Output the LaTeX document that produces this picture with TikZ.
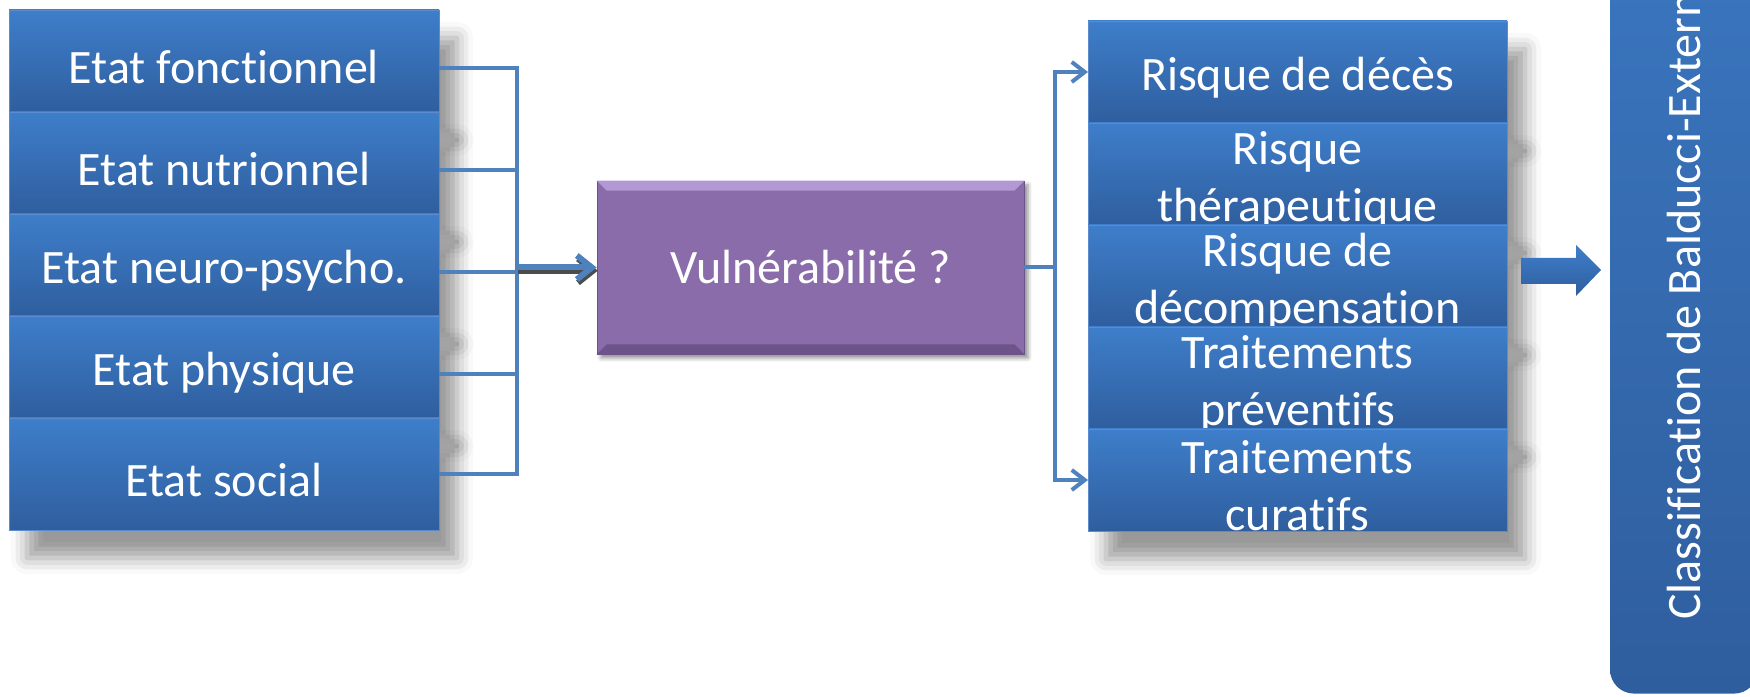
\documentclass[tikz,border=0pt]{standalone}
\usepackage{fontspec}
\setmainfont{Carlito}[Ligatures=NoCommon]
\usetikzlibrary{positioning,arrows.meta,shadows.blur}

\definecolor{boxtop}{RGB}{62,126,202}
\definecolor{boxbot}{RGB}{47,94,158}
\definecolor{boxline}{RGB}{92,140,205}
\definecolor{linkblue}{RGB}{79,129,189}
\definecolor{vulfill}{RGB}{138,108,170}
\definecolor{vullight}{RGB}{178,152,212}
\definecolor{vuldark}{RGB}{108,83,138}

\tikzset{
  statebox/.style={rectangle, top color=boxtop, bottom color=boxbot, draw=boxline,
    line width=0.4pt, minimum width=215pt, minimum height=51pt, inner sep=0pt,
    outer sep=0pt, blur shadow={shadow xshift=9pt, shadow yshift=-14pt,
    shadow blur radius=8pt, shadow opacity=40}},
  boxtext/.style={text=white, align=center, inner sep=0pt, yshift=-3pt,
    font=\fontsize{24}{28.5}\selectfont},
  vulbox/.style={rectangle, fill=vulfill, draw=vuldark, line width=0.4pt,
    minimum width=213.5pt, minimum height=86.5pt, text=white,
    font=\fontsize{24}{28.5}\selectfont,
    blur shadow={shadow xshift=2pt, shadow yshift=-2pt, shadow blur radius=2pt, shadow opacity=45}},
  link/.style={draw=linkblue, line width=2pt},
  tip/.style={-{Straight Barb[length=6.5pt,width=10pt]}},
  flow/.style={draw=linkblue, line width=3pt, -{Straight Barb[length=7.5pt,width=12pt]}},
  flowshade/.style={draw=black!70, line width=3pt, -{Straight Barb[length=7.5pt,width=12pt]}},
  ctgbox/.style={rectangle, rotate=90, anchor=west, top color=boxtop, bottom color=boxbot,
    rounded corners=12pt, minimum height=74pt, text width=440pt, align=flush left,
    inner xsep=37pt, text=white, font=\fontsize{24}{28.5}\selectfont}
}

\begin{document}
\begin{tikzpicture}[x=0.5pt,y=0.5pt]
\useasboundingbox (0,0) rectangle (1750,696);
\clip (0,0) rectangle (1750,696);

% state of the patient
\node[statebox, label={[boxtext]center:Etat fonctionnel}] (e1) at (224,635) {};
\node[statebox, below=0pt of e1, label={[boxtext]center:Etat nutrionnel}] (e2) {};
\node[statebox, below=0pt of e2, label={[boxtext]center:Etat neuro-psycho.}] (e3) {};
\node[statebox, below=0pt of e3, label={[boxtext]center:Etat physique}] (e4) {};
\node[statebox, below=0pt of e4, minimum height=56pt, label={[boxtext]center:Etat social}] (e5) {};

% vulnerability
\node[vulbox] (vul) at (810.5,428.5) {Vulnérabilité ?};
\fill[vullight] (vul.north west) -- (vul.north east) -- ([shift={(-5pt,-5pt)}]vul.north east)
  -- ([shift={(5pt,-5pt)}]vul.north west) -- cycle;
\fill[vuldark] (vul.south west) -- (vul.south east) -- ([shift={(-5pt,5pt)}]vul.south east)
  -- ([shift={(5pt,5pt)}]vul.south west) -- cycle;

% risks and treatments
\node[statebox, minimum width=209.5pt, label={[boxtext]center:Risque de décès}] (r1) at (1297.5,624) {};
\node[statebox, minimum width=209.5pt, below=0pt of r1, label={[boxtext]center:{Risque\\thérapeutique}}] (r2) {};
\node[statebox, minimum width=209.5pt, below=0pt of r2, label={[boxtext]center:{Risque de\\décompensation}}] (r3) {};
\node[statebox, minimum width=209.5pt, below=0pt of r3, label={[boxtext]center:{Traitements\\préventifs}}] (r4) {};
\node[statebox, minimum width=209.5pt, below=0pt of r4, label={[boxtext]center:{Traitements\\curatifs}}] (r5) {};

% classification
\node[ctgbox] (bal) at (1684,2) {Classification de Balducci-Extermann};
\shade[top color=boxtop, bottom color=boxbot] (1521,412) -- (1576,412) -- (1576,400)
  -- (1601,426) -- (1576,451) -- (1576,438) -- (1521,438) -- cycle;

% connectors
\coordinate (busL) at (517,428.5);
\coordinate (busR) at (1055,428.5);
\foreach \n in {1,...,4} \coordinate (t\n) at ([yshift=-3.5pt]e\n.east);
\draw[link] (t1) -| (busL) |- (e5.east);
\foreach \n in {2,3,4} \draw[link] (t\n) -- (t\n -| busL);
\draw[flowshade] ([shift={(0.6pt,-1.6pt)}]busL) -- ([shift={(0.6pt,-1.6pt)}]vul.west);
\draw[flow] (busL) -- (vul.west);
\draw[link] (vul.east) -- (busR);
\draw[link, tip] (busR) |- (r1.west);
\draw[link, tip] (busR) |- (r5.west);
\end{tikzpicture}
\end{document}
